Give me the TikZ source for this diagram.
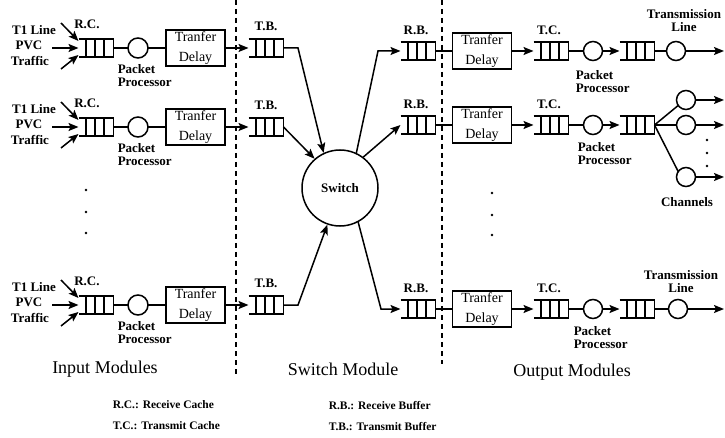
\documentclass[tikz,border=0pt]{standalone}
\usepackage{fontspec}
\setmainfont{Liberation Serif}
\usetikzlibrary{arrows.meta,calc}
\tikzset{
  lbl/.style={font=\bfseries\fontsize{13}{13}\selectfont, inner sep=0},
  legend/.style={font=\bfseries\fontsize{11.5}{12}\selectfont, inner sep=0, anchor=west},
  modlbl/.style={font=\fontsize{18}{20}\selectfont, inner sep=0},
  qbox/.style={minimum width=35pt, minimum height=18pt, inner sep=0, outer sep=0},
  proc/.style={circle, draw, minimum size=20pt, inner sep=0, outer sep=0},
  delay/.style={draw, minimum width=59pt, minimum height=36pt, align=center,
    font=\fontsize{14}{20}\selectfont, inner sep=0},
  arr/.style={-{Stealth[length=10pt,width=8pt,inset=2pt]}},
  dashline/.style={dash pattern=on 5pt off 4pt, line width=1.6pt},
}
\newcommand\qnode[3]{%
  \node[qbox] (#1) at (#2,#3) {};
  \draw (#1.north west) -- (#1.north east) -- (#1.south east) -- (#1.south west);
  \foreach \f in {0.22,0.47,0.73}
    \draw ($(#1.north west)!\f!(#1.north east)$) -- ($(#1.south west)!\f!(#1.south east)$);
}
\newcommand\inrow[2]{%
  \qnode{rc#1}{96}{#2}
  \node[proc] (pp#1) at (138,#2) {};
  \node[delay] (td#1) at (195.5,#2) {Tranfer\\Delay};
  \draw (rc#1.east) -- (pp#1.west);
  \draw (pp#1.east) -- (td#1.west);
  \qnode{tb#1}{266}{#2}
  \draw[arr] (td#1.east) -- (tb#1.west);
  \node[lbl] (rcl#1) at (87,#2-24) {R.C.};
  \node[lbl] (tbl#1) at (266,#2-22) {T.B.};
  \node[lbl, anchor=north west, align=left] (ppl#1) at (117,#2+16) {Packet\\Processor};
  \node[lbl] (t1l#1) at (34,#2-18) {T1 Line};
  \node[lbl] (pvc#1) at (29,#2-3) {PVC};
  \node[lbl] (trf#1) at (30,#2+13) {Traffic};
  \coordinate (ia#1) at (61,#2-25);
  \coordinate (ib#1) at (52,#2);
  \coordinate (ic#1) at (61,#2+21);
  \draw[arr] (ia#1) -- ($(rc#1.west)+(0,-7)$);
  \draw[arr] (ib#1) -- (rc#1.west);
  \draw[arr] (ic#1) -- ($(rc#1.west)+(0,7)$);
}
\newcommand\outrow[2]{%
  \qnode{rb#1}{418}{#2}
  \node[delay] (od#1) at (482,#2) {Tranfer\\Delay};
  \draw (rb#1.east) -- (od#1.west);
  \qnode{tc#1}{551}{#2}
  \draw[arr] (od#1.east) -- (tc#1.west);
  \node[proc, minimum size=19pt] (op#1) at (593,#2) {};
  \draw (tc#1.east) -- (op#1.west);
  \qnode{oq#1}{637}{#2}
  \draw[arr] (op#1.east) -- (oq#1.west);
  \node[lbl] (rbl#1) at (416,#2-21) {R.B.};
  \node[lbl] (tcl#1) at (549,#2-21) {T.C.};
}
\begin{document}
\begin{tikzpicture}[x=1pt,y=-1pt,line width=1.5pt]
\useasboundingbox (0,0) rectangle (725,438);

% dashed separators
\coordinate (d1t) at (236,0); \coordinate (d1b) at (236,376);
\coordinate (d2t) at (442,0); \coordinate (d2b) at (442,364);
\draw[dashline] (d1t) -- (d1b);
\draw[dashline] (d2t) -- (d2b);

% input modules
\inrow{1}{48}
\inrow{2}{127}
\inrow{3}{305}
\foreach \yy in {190,212,233}
  \fill (86,\yy) circle (1.4pt);

% switch
\node[circle, draw, minimum size=76pt, inner sep=0, font=\bfseries\fontsize{13}{13}\selectfont] (sw) at (340,188) {Switch};
\coordinate (k1) at (298,48);
\coordinate (k3) at (298,305);
\draw[arr] (tb1.east) -- (k1) -- (sw.115);
\draw[arr] (tb2.east) -- (sw.131);
\draw[arr] (tb3.east) -- (k3) -- (sw.251);

% output modules
\outrow{1}{51}
\outrow{2}{125}
\outrow{3}{309}
\coordinate (o1) at (378,51);
\coordinate (o3) at (381,309);
\draw[arr] (sw.65) -- (o1) -- (rb1.west);
\draw[arr] (sw.53) -- (rb2.west);
\draw[arr] (sw.-62) -- (o3) -- (rb3.west);
\foreach \yy in {193,215,235}
  \fill (492,\yy) circle (1.4pt);

% transmission lines rows 1 and 3
\node[proc, minimum size=19pt] (tl1) at (676,51) {};
\node[proc, minimum size=19pt] (tl3) at (678,309) {};
\draw (oq1.east) -- (tl1.west);
\draw (oq3.east) -- (tl3.west);
\coordinate (e1) at (724,51);
\coordinate (e3) at (724,309);
\draw[arr] (tl1.east) -- (e1);
\draw[arr] (tl3.east) -- (e3);
\node[lbl, align=center] (tll1) at (684,21) {Transmission\\Line};
\node[lbl, align=center] (tll3) at (681,282) {Transmission\\Line};
\node[lbl, anchor=north west, align=left] (opl1) at (575,70) {Packet\\Processor};
\node[lbl, anchor=north west, align=left] (opl2) at (577,142) {Packet\\Processor};
\node[lbl, anchor=north west, align=left] (opl3) at (573,326) {Packet\\Processor};

% channels (row 2)
\node[proc, minimum size=19pt] (ch1) at (686,100) {};
\node[proc, minimum size=19pt] (ch2) at (686,125) {};
\node[proc, minimum size=19pt] (ch3) at (686,177) {};
\draw (oq2.east) -- (ch1.215);
\draw (oq2.east) -- (ch2.west);
\draw (oq2.east) -- (ch3.145);
\coordinate (c1) at (724,100);
\coordinate (c2) at (724,125);
\coordinate (c3) at (724,177);
\draw[arr] (ch1.east) -- (c1);
\draw[arr] (ch2.east) -- (c2);
\draw[arr] (ch3.east) -- (c3);
\foreach \yy in {140,153,166}
  \fill (707,\yy) circle (1.4pt);
\node[lbl] (chl) at (687,202) {Channels};

% module labels
\node[modlbl] (inm) at (105,369) {Input Modules};
\node[modlbl] (swm) at (343,369) {Switch Module};
\node[modlbl] (outm) at (572,372) {Output Modules};

% legend
\node[legend] (lg1) at (112,405) {R.C.: Receive Cache};
\node[legend] (lg2) at (112,426) {T.C.: Transmit Cache};
\node[legend] (lg3) at (328,406) {R.B.: Receive Buffer};
\node[legend] (lg4) at (328,427) {T.B.: Transmit Buffer};
\end{tikzpicture}
\end{document}
